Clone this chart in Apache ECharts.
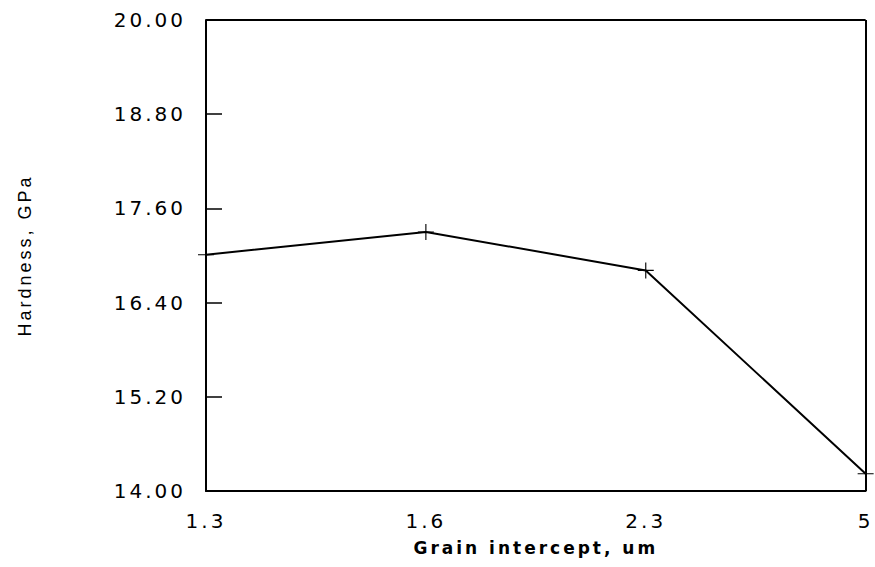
<!DOCTYPE html>
<html>
<head>
    <meta charset="utf-8">
    <title>Hardness vs grain intercept</title>
    <script src="https://cdn.jsdelivr.net/npm/echarts@6/dist/echarts.min.js"></script>
    <style>
        /* the old plot uses a wide, spaced-out lettering */
        #main text { letter-spacing: 3px; }
    </style>
</head>
<body style="margin:0;background:#fff">
<div id="main" style="width:875px;height:567px"></div>
<script type="text/javascript">
    // data
    var grain = ['1.3', '1.6', '2.3', '5'];
    var hardness = [17.01, 17.30, 16.81, 14.22];
    var yTicks = [14, 15.2, 16.4, 17.6, 18.8, 20];

    var plus = 'path://M-1,-0.07H1V0.07H-1Z M-0.07,-1H0.07V1H-0.07Z';
    var wide = '"DejaVu Sans", Verdana, sans-serif';
    var narrow = '"Liberation Sans", Arial, sans-serif';

    var myChart = echarts.init(document.getElementById('main'), null, { renderer: 'svg' });
    var option = {
        animation: false,
        grid: { left: 206, right: 8, top: 20, bottom: 76 },
        xAxis: {
            type: 'category',
            data: grain,
            boundaryGap: false,
            name: 'Grain intercept, um',
            nameLocation: 'middle',
            nameGap: 48,
            nameTextStyle: { fontFamily: wide, fontSize: 17, color: '#000', fontWeight: 'bold' },
            axisLine: { lineStyle: { color: '#000', width: 2 } },
            axisTick: { show: false },
            axisLabel: { fontFamily: wide, fontSize: 20, color: '#000', margin: 20 },
            splitLine: { show: false }
        },
        yAxis: {
            type: 'value',
            min: yTicks[0],
            max: yTicks[yTicks.length - 1],
            interval: 1.2,
            name: 'Hardness, GPa',
            nameLocation: 'middle',
            nameGap: 172,
            nameTextStyle: { fontFamily: narrow, fontSize: 18, color: '#000' },
            axisLine: { show: true, lineStyle: { color: '#000', width: 2 } },
            axisTick: { show: true, inside: true, length: 16, lineStyle: { color: '#000', width: 1.5 } },
            axisLabel: {
                fontFamily: wide, fontSize: 20, color: '#000', margin: 20,
                formatter: function (v) { return v.toFixed(2); }
            },
            splitLine: { show: false }
        },
        series: [{
            type: 'line',
            data: hardness,
            symbol: plus,
            symbolSize: 16,
            itemStyle: { color: '#000' },
            lineStyle: { color: '#000', width: 2 }
        }, {
            // frame top and right edges
            type: 'line',
            data: [],
            markLine: {
                silent: true,
                symbol: 'none',
                label: { show: false },
                lineStyle: { color: '#000', width: 2, type: 'solid' },
                data: [
                    [{ coord: [grain[0], 20] }, { coord: [grain[grain.length - 1], 20] }],
                    [{ coord: [grain[grain.length - 1], 14] }, { coord: [grain[grain.length - 1], 20] }]
                ]
            }
        }]
    };
    myChart.setOption(option);
</script>
</body>
</html>
